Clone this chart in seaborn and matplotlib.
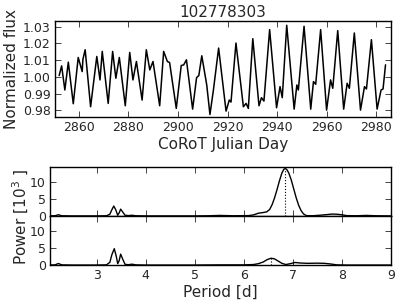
import numpy as np
import pandas as pd
import seaborn as sns
import matplotlib
matplotlib.use("Agg")
import matplotlib.pyplot as plt

star_id = "102778303"

# light curve: CoRoT Julian Day / normalized flux
days = [2852.0, 2853.0, 2854.3, 2855.7, 2857.7, 2859.7, 2861.3, 2861.6, 2862.5, 2864.7,
        2867.2, 2868.5, 2869.4, 2871.8, 2873.6, 2874.9, 2876.3, 2878.7, 2880.5, 2881.8,
        2883.2, 2885.5, 2887.2, 2888.6, 2889.9, 2892.6, 2894.2, 2895.7, 2896.6, 2899.3,
        2901.3, 2902.3, 2903.4, 2905.9, 2907.5, 2908.4, 2909.6, 2911.6, 2912.9, 2914.3,
        2916.4, 2919.4, 2920.7, 2921.4, 2923.4, 2926.4, 2927.5, 2928.4, 2930.2, 2932.7,
        2933.7, 2934.7, 2937.0, 2939.8, 2941.2, 2942.1, 2943.9, 2946.9, 2948.0, 2948.6,
        2950.9, 2953.6, 2954.7, 2955.6, 2957.6, 2960.0, 2961.6, 2962.5, 2964.5, 2966.9,
        2968.3, 2969.2, 2971.2, 2973.7, 2975.3, 2976.1, 2978.1, 2980.4, 2982.0, 2982.8,
        2983.8]
flux = [1.0008, 1.0066, 0.9922, 1.0088, 0.9840, 1.0116, 1.0032, 1.0105, 1.0162, 0.9822,
        1.0122, 0.9982, 1.0152, 0.9842, 1.0152, 0.9992, 1.0116, 0.9828, 1.0146, 0.9982,
        1.0092, 0.9862, 1.0162, 1.0042, 1.0092, 0.9828, 1.0152, 1.0092, 1.0086, 0.9812,
        1.0068, 1.0072, 1.0102, 0.9808, 0.9996, 1.0008, 1.0126, 0.9952, 0.9776, 0.9922,
        1.0172, 0.9796, 0.9862, 0.9850, 1.0202, 0.9822, 0.9842, 0.9812, 1.0228, 0.9828,
        0.9876, 0.9856, 1.0282, 0.9816, 0.9942, 0.9876, 1.0308, 0.9808, 0.9952, 0.9922,
        1.0302, 0.9808, 0.9972, 0.9956, 1.0282, 0.9802, 0.9982, 0.9932, 1.0276, 0.9808,
        0.9962, 0.9932, 1.0262, 0.9802, 0.9942, 0.9928, 1.0222, 0.9808, 0.9922, 0.9928,
        1.0072]

# periodogram of the whole light curve (power in 10^3)
period_a = [2.05, 2.15, 2.22, 2.29, 2.5, 3.0, 3.2, 3.27, 3.31, 3.35,
            3.39, 3.43, 3.46, 3.49, 3.53, 3.58, 3.65, 3.72, 3.8, 4.0,
            5.0, 5.3, 5.5, 5.8, 6.1, 6.2, 6.3, 6.4, 6.47, 6.53,
            6.58, 6.63, 6.68, 6.73, 6.78, 6.82, 6.85, 6.88, 6.92, 6.97,
            7.02, 7.07, 7.12, 7.17, 7.22, 7.28, 7.4, 7.55, 7.7, 7.8,
            7.9, 8.0, 8.1, 8.3, 8.5, 8.7, 9.0]
power_a = [0.05, 0.05, 0.35, 0.05, 0.0, 0.0, 0.05, 0.5, 1.8, 2.9,
           1.8, 0.2, 0.9, 2.0, 1.2, 0.2, 0.1, 0.2, 0.05, 0.0,
           0.0, 0.05, 0.15, 0.05, 0.1, 0.3, 0.8, 1.0, 1.2, 1.9,
           3.3, 5.3, 7.7, 10.3, 12.6, 13.7, 13.9, 13.6, 12.6, 10.6,
           8.0, 5.4, 3.2, 1.6, 0.6, 0.1, 0.05, 0.2, 0.4, 0.55,
           0.5, 0.35, 0.1, 0.05, 0.15, 0.05, 0.0]

# second periodogram
period_b = [2.05, 2.15, 2.22, 2.29, 2.5, 3.0, 3.2, 3.27, 3.31, 3.36,
            3.40, 3.43, 3.46, 3.49, 3.53, 3.58, 3.65, 3.72, 3.8, 4.0,
            5.0, 5.5, 6.0, 6.2, 6.3, 6.4, 6.48, 6.56, 6.63, 6.7,
            6.78, 6.86, 6.95, 7.05, 7.15, 7.3, 7.5, 7.65, 7.78, 7.9,
            8.1, 9.0]
power_b = [0.05, 0.05, 0.45, 0.05, 0.0, 0.0, 0.05, 0.8, 3.0, 4.8,
           2.6, 0.4, 1.3, 3.2, 1.8, 0.2, 0.1, 0.25, 0.05, 0.0,
           0.0, 0.05, 0.05, 0.15, 0.4, 0.9, 1.6, 2.0, 1.8, 1.2,
           0.5, 0.15, 0.4, 0.75, 0.6, 0.5, 0.55, 0.5, 0.3, 0.05,
           0.0, 0.0]

best_a = 6.85
best_b = 6.56

sns.set_style("ticks", {"xtick.direction": "in", "ytick.direction": "in",
                        "axes.edgecolor": "black"})
plt.rcParams["font.family"] = ["DejaVu Sans"]
plt.rcParams["lines.solid_joinstyle"] = "round"

fig = plt.figure(figsize=(4.07, 3.05), dpi=100)
ax1 = fig.add_axes([0.135, 0.617, 0.825, 0.315])
ax2 = fig.add_axes([0.123, 0.292, 0.837, 0.161])
ax3 = fig.add_axes([0.123, 0.131, 0.837, 0.161])

lc = pd.DataFrame({"day": days, "flux": flux})
sns.lineplot(data=lc, x="day", y="flux", ax=ax1, color="k", lw=1.1)
ax1.set_xlim(2850.3, 2985.9)
ax1.set_ylim(0.9762, 1.0335)
ax1.set_xticks([2860, 2880, 2900, 2920, 2940, 2960, 2980])
ax1.set_yticks([0.98, 0.99, 1.00, 1.01, 1.02, 1.03])
ax1.set_xlabel("CoRoT Julian Day", fontsize=11, labelpad=2)
ax1.set_ylabel("Normalized flux", fontsize=11, labelpad=3)
ax1.set_title(star_id, fontsize=11, pad=3)

sns.lineplot(x=period_a, y=power_a, ax=ax2, color="k", lw=1.0)
ax2.vlines(best_a, 0, max(power_a), color="k", lw=0.8, linestyles=":")
sns.lineplot(x=period_b, y=power_b, ax=ax3, color="k", lw=1.0)
ax3.vlines(best_b, 0, power_b[period_b.index(best_b)], color="k", lw=0.8,
           linestyles=":")

for ax in (ax2, ax3):
    ax.set_xlim(2.05, 9)
    ax.set_ylim(0, 14.4)
    ax.set_xticks([3, 4, 5, 6, 7, 8, 9])
    ax.set_yticks([0, 5, 10])
    ax.set_ylabel("")
ax2.set_xticklabels([])
ax2.set_xlabel("")
ax3.set_xlabel("Period [d]", fontsize=11, labelpad=2)
fig.text(0.052, 0.289, "Power [10$^3$ ]", rotation=90, fontsize=11,
         ha="center", va="center")

for ax in (ax1, ax2, ax3):
    ax.tick_params(top=True, right=True, direction="in", length=4,
                   width=0.6, labelsize=9, pad=3)
    for s in ax.spines.values():
        s.set_linewidth(1.0)
        s.set_color("black")

fig.savefig("out.png", dpi=100)
